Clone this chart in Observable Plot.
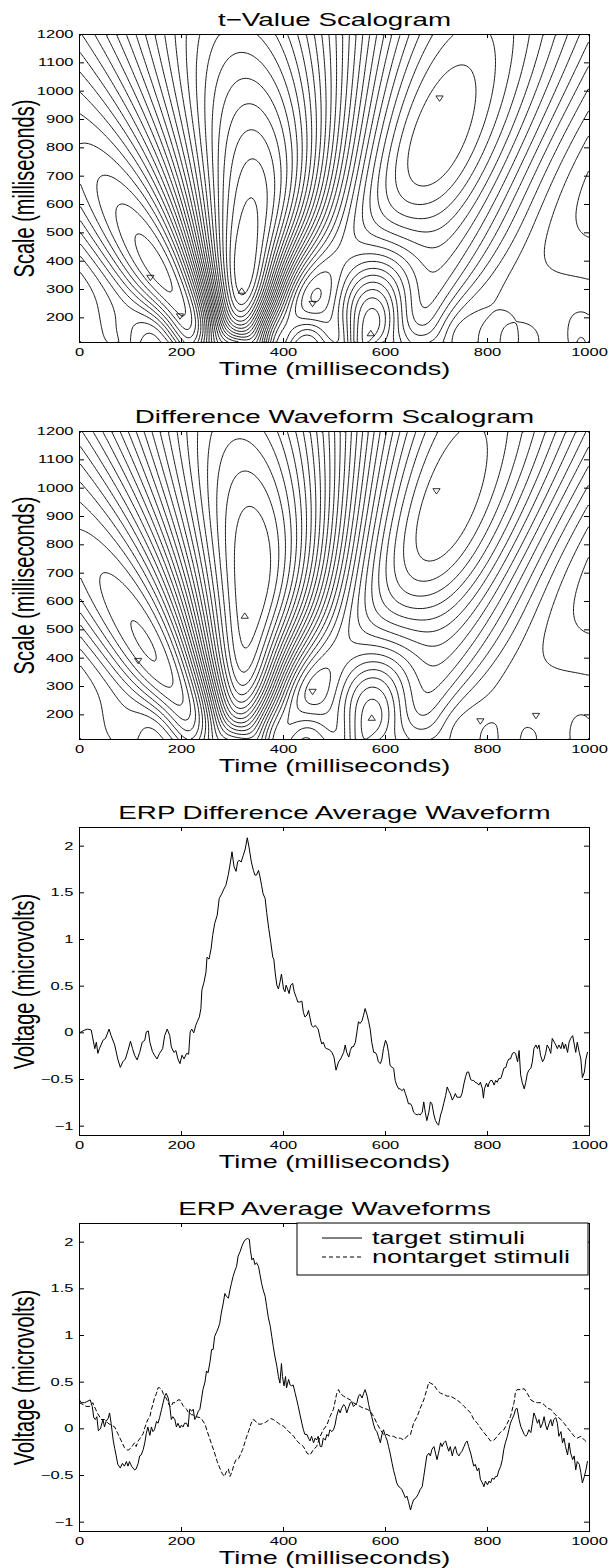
<!DOCTYPE html>
<html><head><meta charset="utf-8">
<script src="https://cdn.jsdelivr.net/npm/d3@7"></script>
<script src="https://cdn.jsdelivr.net/npm/@observablehq/plot@0.6"></script>
<style>
body{margin:0;background:#fff;}
#fig{width:610px;}
#fig svg{display:block;}
</style></head><body><div id="fig"></div>
<script>
// ---------------- data ----------------
const timeTicks = [0, 200, 400, 600, 800, 1000];
const scaleTicks = [200, 300, 400, 500, 600, 700, 800, 900, 1000, 1100, 1200];
const voltTicks = [-1, -0.5, 0, 0.5, 1, 1.5, 2];
const scaleDomain = [113, 1200];
const voltDomain = [-1.1, 2.2];

const titles = ["t\u2212Value Scalogram", "Difference Waveform Scalogram", "ERP Difference Average Waveform", "ERP Average Waveforms"];
const xLabel = "Time (milliseconds)";
const scaleLabel = "Scale (milliseconds)";
const voltLabel = "Voltage (microvolts)";
const legendLabels = ["target stimuli", "nontarget stimuli"];

// [time ms, microvolts]
const diffWave = [[0,0.00],[10,0.03],[16,0.04],[23,0.03],[30,-0.17],[33,-0.10],[36,-0.22],[39,-0.17],[43,-0.12],[46,-0.08],[51,-0.06],[58,0.04],[62,-0.03],[69,-0.13],[75,-0.28],[80,-0.37],[85,-0.31],[90,-0.28],[95,-0.19],[100,-0.09],[104,-0.17],[108,-0.24],[113,-0.29],[118,-0.21],[123,-0.10],[128,-0.08],[131,0.01],[135,0.02],[138,-0.10],[143,-0.20],[147,-0.24],[152,-0.28],[157,-0.22],[163,-0.17],[167,-0.03],[172,0.04],[177,-0.03],[180,-0.15],[185,-0.21],[189,-0.19],[193,-0.28],[197,-0.33],[201,-0.24],[205,-0.28],[210,-0.22],[214,-0.23],[217,0.01],[220,0.04],[224,0.00],[228,0.08],[231,0.12],[235,0.17],[238,0.26],[240,0.46],[244,0.54],[248,0.65],[250,0.81],[254,0.79],[258,0.90],[261,1.04],[265,1.17],[270,1.26],[274,1.44],[279,1.49],[283,1.54],[287,1.58],[292,1.70],[296,1.83],[299,1.94],[303,1.78],[307,1.73],[310,1.83],[313,1.85],[317,1.83],[321,1.90],[325,1.97],[329,2.09],[333,1.97],[337,1.83],[341,1.74],[344,1.69],[347,1.69],[351,1.74],[354,1.67],[357,1.58],[360,1.49],[364,1.44],[367,1.29],[371,1.12],[375,0.97],[379,0.81],[381,0.79],[384,0.63],[387,0.51],[390,0.47],[393,0.54],[396,0.63],[400,0.47],[403,0.44],[405,0.51],[408,0.47],[411,0.42],[414,0.51],[418,0.53],[421,0.44],[425,0.38],[428,0.33],[432,0.33],[436,0.34],[439,0.22],[442,0.17],[446,0.19],[449,0.24],[452,0.16],[455,0.08],[459,0.06],[462,0.08],[465,0.06],[468,0.04],[472,-0.06],[475,-0.12],[478,-0.10],[482,-0.16],[485,-0.17],[490,-0.18],[495,-0.21],[499,-0.26],[503,-0.40],[508,-0.31],[512,-0.28],[518,-0.21],[521,-0.13],[524,-0.21],[528,-0.26],[531,-0.19],[534,-0.15],[537,-0.15],[541,-0.10],[544,0.01],[547,0.12],[550,0.10],[554,0.13],[557,0.19],[560,0.26],[564,0.19],[567,0.12],[570,0.04],[573,-0.10],[577,-0.21],[580,-0.21],[583,-0.24],[586,-0.31],[590,-0.33],[593,-0.28],[596,-0.17],[600,-0.08],[603,-0.12],[606,-0.21],[609,-0.35],[613,-0.37],[616,-0.38],[619,-0.51],[622,-0.56],[626,-0.60],[629,-0.60],[632,-0.62],[636,-0.60],[639,-0.65],[642,-0.70],[645,-0.76],[649,-0.76],[652,-0.79],[655,-0.85],[659,-0.87],[662,-0.88],[665,-0.87],[668,-0.88],[672,-0.85],[675,-0.74],[678,-0.85],[681,-0.94],[685,-0.85],[688,-0.74],[691,-0.76],[695,-0.88],[698,-0.94],[701,-0.97],[704,-0.99],[708,-0.88],[711,-0.83],[714,-0.76],[718,-0.67],[721,-0.58],[724,-0.62],[727,-0.65],[731,-0.72],[734,-0.69],[737,-0.65],[740,-0.69],[744,-0.69],[747,-0.69],[750,-0.65],[754,-0.54],[757,-0.47],[760,-0.42],[763,-0.42],[767,-0.50],[770,-0.51],[773,-0.51],[776,-0.53],[780,-0.54],[783,-0.56],[786,-0.53],[790,-0.60],[792,-0.70],[794,-0.60],[798,-0.54],[801,-0.58],[803,-0.54],[806,-0.51],[809,-0.51],[813,-0.56],[816,-0.51],[819,-0.53],[822,-0.49],[826,-0.49],[829,-0.44],[832,-0.38],[836,-0.37],[839,-0.31],[842,-0.28],[845,-0.28],[849,-0.22],[852,-0.21],[855,-0.22],[859,-0.31],[862,-0.19],[865,-0.45],[868,-0.53],[872,-0.60],[875,-0.53],[878,-0.44],[881,-0.40],[885,-0.38],[888,-0.31],[891,-0.17],[895,-0.13],[898,-0.17],[901,-0.13],[904,-0.24],[908,-0.31],[911,-0.28],[914,-0.22],[917,-0.13],[921,-0.17],[924,-0.22],[927,-0.06],[931,-0.10],[934,-0.13],[937,-0.17],[940,-0.13],[944,-0.17],[947,-0.10],[950,-0.17],[953,-0.12],[957,-0.21],[960,-0.10],[963,-0.06],[967,-0.03],[970,-0.12],[973,-0.21],[976,-0.10],[980,-0.21],[983,-0.28],[986,-0.48],[990,-0.42],[993,-0.28],[996,-0.21]];

const targetWave = [[0,0.31],[3,0.28],[10,0.28],[14,0.29],[21,0.31],[25,0.24],[28,0.12],[31,0.10],[34,0.13],[37,-0.02],[41,0.00],[43,0.04],[46,0.10],[49,0.02],[52,0.08],[56,0.11],[59,0.17],[62,0.06],[66,-0.12],[69,-0.21],[72,-0.29],[75,-0.38],[80,-0.42],[84,-0.37],[88,-0.40],[92,-0.35],[95,-0.40],[98,-0.35],[102,-0.40],[105,-0.42],[108,-0.44],[111,-0.43],[115,-0.37],[118,-0.29],[121,-0.28],[125,-0.22],[128,-0.15],[131,-0.05],[134,0.02],[138,-0.07],[141,0.02],[144,-0.03],[147,-0.01],[151,0.08],[154,0.06],[157,0.12],[161,0.21],[164,0.28],[167,0.35],[170,0.38],[174,0.33],[177,0.24],[180,0.10],[183,0.13],[187,0.10],[190,0.02],[193,0.06],[197,0.01],[200,0.04],[203,0.02],[206,0.06],[210,0.06],[213,0.02],[216,0.21],[220,0.19],[223,0.21],[226,0.10],[229,0.13],[233,0.19],[236,0.21],[239,0.31],[242,0.42],[246,0.50],[249,0.62],[252,0.60],[256,0.72],[259,0.85],[262,0.85],[265,0.99],[269,1.04],[272,1.08],[275,1.13],[278,1.24],[282,1.35],[285,1.45],[288,1.42],[292,1.40],[295,1.49],[298,1.56],[301,1.63],[305,1.70],[308,1.74],[311,1.85],[315,1.90],[318,1.95],[321,1.99],[324,2.02],[329,2.04],[333,2.03],[335,1.92],[338,1.81],[341,1.83],[344,1.76],[347,1.78],[351,1.74],[354,1.65],[357,1.56],[360,1.49],[364,1.42],[367,1.31],[370,1.20],[374,1.10],[377,0.99],[380,0.88],[383,0.78],[387,0.67],[390,0.56],[393,0.49],[396,0.70],[398,0.56],[401,0.46],[404,0.56],[406,0.44],[410,0.53],[413,0.47],[416,0.46],[419,0.47],[423,0.38],[426,0.31],[429,0.24],[432,0.16],[436,0.06],[439,-0.01],[442,-0.06],[446,-0.06],[449,-0.10],[452,-0.13],[455,-0.08],[459,-0.15],[462,-0.10],[465,-0.12],[468,-0.08],[472,-0.19],[475,-0.19],[478,-0.10],[482,-0.12],[485,-0.06],[488,-0.08],[491,-0.01],[495,-0.03],[498,-0.01],[501,0.04],[504,0.13],[508,0.21],[511,0.17],[514,0.22],[518,0.26],[521,0.24],[524,0.17],[527,0.22],[531,0.28],[534,0.29],[537,0.24],[541,0.26],[544,0.28],[547,0.35],[550,0.37],[554,0.33],[557,0.38],[560,0.42],[564,0.35],[567,0.26],[570,0.19],[573,0.13],[577,0.04],[580,-0.01],[583,-0.03],[586,-0.08],[590,-0.15],[593,-0.06],[596,-0.01],[600,-0.08],[603,-0.12],[606,-0.19],[609,-0.26],[613,-0.37],[616,-0.45],[619,-0.51],[622,-0.58],[626,-0.62],[629,-0.63],[632,-0.65],[636,-0.70],[639,-0.74],[642,-0.72],[645,-0.78],[649,-0.87],[652,-0.81],[655,-0.76],[658,-0.75],[662,-0.72],[665,-0.69],[668,-0.65],[672,-0.62],[675,-0.51],[678,-0.40],[681,-0.29],[685,-0.26],[688,-0.29],[691,-0.22],[695,-0.19],[698,-0.26],[701,-0.33],[704,-0.26],[708,-0.15],[711,-0.19],[714,-0.15],[718,-0.13],[721,-0.19],[724,-0.24],[727,-0.19],[731,-0.29],[734,-0.22],[737,-0.19],[740,-0.26],[744,-0.29],[747,-0.26],[750,-0.24],[754,-0.19],[757,-0.15],[760,-0.13],[763,-0.19],[767,-0.26],[770,-0.33],[773,-0.40],[776,-0.38],[780,-0.45],[783,-0.42],[786,-0.54],[790,-0.58],[793,-0.62],[796,-0.56],[800,-0.60],[803,-0.56],[806,-0.58],[809,-0.53],[813,-0.54],[816,-0.51],[819,-0.51],[822,-0.45],[826,-0.40],[829,-0.33],[832,-0.22],[835,-0.15],[839,-0.08],[842,-0.01],[845,0.06],[848,0.10],[852,0.15],[855,0.21],[858,0.22],[862,0.10],[865,0.03],[868,-0.01],[872,-0.06],[875,-0.08],[878,-0.06],[881,-0.01],[885,-0.04],[888,0.06],[891,0.17],[894,0.13],[898,0.06],[901,0.10],[904,0.01],[908,0.06],[911,0.13],[914,0.04],[917,-0.01],[921,0.06],[924,0.10],[927,0.03],[930,0.10],[934,0.12],[937,0.06],[940,-0.08],[944,-0.03],[947,-0.15],[950,-0.10],[953,-0.19],[957,-0.28],[960,-0.15],[963,-0.26],[967,-0.33],[970,-0.29],[973,-0.44],[976,-0.35],[980,-0.38],[983,-0.47],[986,-0.58],[990,-0.51],[993,-0.44],[996,-0.35]];

const nontargetWave = [[0,0.28],[7,0.26],[13,0.24],[20,0.24],[26,0.28],[29,0.24],[36,0.16],[43,0.10],[49,0.10],[56,0.06],[62,0.04],[69,0.02],[75,-0.05],[82,-0.13],[88,-0.20],[95,-0.23],[100,-0.21],[104,-0.18],[108,-0.15],[111,-0.19],[115,-0.13],[119,-0.10],[125,-0.05],[128,0.01],[131,0.06],[134,0.10],[138,0.13],[141,0.21],[144,0.26],[147,0.33],[151,0.38],[154,0.44],[157,0.44],[161,0.42],[164,0.38],[167,0.35],[170,0.33],[174,0.28],[177,0.24],[180,0.24],[183,0.28],[187,0.28],[190,0.29],[193,0.31],[197,0.31],[200,0.28],[203,0.25],[206,0.23],[210,0.21],[213,0.18],[216,0.17],[220,0.15],[223,0.15],[226,0.13],[229,0.13],[236,0.12],[240,0.10],[246,0.05],[250,-0.02],[255,-0.10],[260,-0.18],[265,-0.26],[270,-0.35],[275,-0.42],[280,-0.48],[284,-0.51],[288,-0.46],[292,-0.43],[295,-0.51],[299,-0.46],[303,-0.38],[307,-0.33],[312,-0.32],[316,-0.27],[320,-0.22],[324,-0.15],[328,-0.08],[332,-0.02],[336,0.05],[340,0.10],[344,0.09],[348,0.06],[352,0.05],[356,0.05],[360,0.06],[365,0.07],[370,0.09],[375,0.11],[380,0.10],[385,0.08],[390,0.06],[395,0.04],[400,0.03],[405,0.00],[410,-0.03],[415,-0.05],[420,-0.08],[425,-0.12],[430,-0.15],[435,-0.17],[439,-0.19],[446,-0.26],[452,-0.28],[459,-0.22],[465,-0.19],[472,-0.08],[478,-0.01],[485,0.04],[491,0.13],[498,0.21],[504,0.37],[508,0.42],[511,0.38],[518,0.35],[524,0.33],[531,0.31],[537,0.28],[544,0.26],[550,0.24],[557,0.22],[564,0.21],[570,0.19],[577,0.13],[583,0.06],[590,-0.01],[596,-0.06],[603,-0.06],[609,-0.08],[616,-0.08],[622,-0.10],[629,-0.10],[636,-0.12],[642,-0.08],[649,-0.06],[655,0.06],[662,0.13],[668,0.22],[675,0.31],[681,0.42],[685,0.50],[688,0.49],[695,0.47],[701,0.42],[708,0.38],[714,0.37],[721,0.35],[727,0.35],[734,0.33],[740,0.31],[747,0.28],[754,0.24],[760,0.21],[767,0.17],[773,0.10],[780,0.06],[786,0.01],[793,-0.04],[799,-0.08],[806,-0.13],[813,-0.12],[819,-0.08],[825,-0.04],[832,-0.01],[839,0.06],[845,0.13],[852,0.28],[855,0.40],[858,0.42],[865,0.42],[872,0.43],[878,0.38],[885,0.31],[891,0.29],[898,0.28],[904,0.28],[911,0.26],[917,0.22],[924,0.21],[930,0.17],[937,0.13],[944,0.10],[950,0.06],[957,0.01],[963,-0.03],[970,-0.08],[976,-0.10],[983,-0.08],[990,-0.12],[996,-0.15]];

// extrema markers (time ms, scale ms)
const tvMaxTime = [318, 571], tvMaxScale = [296, 146];
const tvMinTime = [139, 197, 457, 706], tvMinScale = [341, 205, 249, 974];
const dfMaxTime = [324, 573], dfMaxScale = [550, 190];
const dfMinTime = [115, 457, 700, 786, 895], dfMinScale = [390, 281, 989, 177, 196];

// ---------------- scalogram (Mexican-hat wavelet transform of the difference waveform) ----------------
const NX = 200, NY = 220;
const SCALE_PER_WIDTH = 4.4;   // plotted scale = 4.4 x wavelet width parameter
const P_DIFF = 0.5, P_T = 0.8; // scale normalisation exponents
const N_LEVELS = 30;

function scalogram(wave, p) {
  const ts = wave.map(d => d[0]), vs = wave.map(d => d[1]), n = ts.length;
  const w = ts.map((t, i) => ((i < n - 1 ? ts[i + 1] : t) - (i > 0 ? ts[i - 1] : t)) / 2);
  const [s0, s1] = scaleDomain;
  const grid = new Array(NX * NY);
  for (let j = 0; j < NY; j++) {
    const a = (s0 + (j + 0.5) * (s1 - s0) / NY) / SCALE_PER_WIDTH;
    const norm = Math.pow(a, -p);
    for (let i = 0; i < NX; i++) {
      const b = (i + 0.5) * 1000 / NX;
      let s = 0;
      for (let k = 0; k < n; k++) {
        const u = (ts[k] - b) / a;
        if (u > 6 || u < -6) continue;
        const u2 = u * u;
        s += vs[k] * w[k] * (1 - u2) * Math.exp(-u2 / 2);
      }
      grid[j * NX + i] = s * norm;
    }
  }
  return grid;
}

// ---------------- layout ----------------
const W = 610, ML = 79, MR = 21, MT = 34, PH = 308, PW = W - ML - MR;
const STRETCH = 1.5;
const FONT = "'Liberation Sans', Arial, Helvetica, sans-serif";

const triUp = {draw(c) { c.moveTo(0, -2.8); c.lineTo(3.6, 2.6); c.lineTo(-3.6, 2.6); c.closePath(); }};
const triDown = {draw(c) { c.moveTo(0, 2.8); c.lineTo(3.6, -2.6); c.lineTo(-3.6, -2.6); c.closePath(); }};

function contourMark(grid) {
  const [lo, hi] = d3.extent(grid);
  const th = d3.range(1, N_LEVELS).map(i => lo + (hi - lo) * i / N_LEVELS);
  return Plot.contour(grid, {
    width: NX, height: NY, x1: 0, x2: 1000, y1: scaleDomain[0], y2: scaleDomain[1],
    value: d => d, thresholds: th, fill: "none", stroke: "black", strokeWidth: 0.9
  });
}

function markers(tArr, sArr, sym) {
  return Plot.dot(tArr, {x: d => d, y: (d, i) => sArr[i], symbol: sym, r: 3, fill: "none", stroke: "black", strokeWidth: 0.8});
}

const voltFmt = d => (d < 0 ? "\u2212" + (-d) : String(d));

function panel({title, yLabel, yDomain, yTicks, yFormat, marks, height}) {
  const mb = height - MT - PH;
  return Plot.plot({
    width: W, height, marginLeft: ML, marginRight: MR, marginTop: MT, marginBottom: mb,
    style: {fontFamily: FONT, background: "white", color: "black", overflow: "visible"},
    x: {domain: [0, 1000]},
    y: {domain: yDomain},
    marks: [
      ...marks,
      Plot.frame({stroke: "black", strokeWidth: 1}),
      Plot.ruleX(timeTicks, {x: d => d, insetTop: PH - 4, stroke: "black"}),
      Plot.ruleX(timeTicks, {x: d => d, insetBottom: PH - 4, stroke: "black"}),
      Plot.ruleY(yTicks, {y: d => d, insetRight: PW - 5, stroke: "black"}),
      Plot.ruleY(yTicks, {y: d => d, insetLeft: PW - 5, stroke: "black"}),
      Plot.axisX({ticks: timeTicks, tickSize: 0, tickPadding: 6, fontSize: 11, label: null, tickFormat: d => String(d)}),
      Plot.axisY({ticks: yTicks, tickSize: 0, tickPadding: 6, fontSize: 11, label: null, tickFormat: yFormat}),
      Plot.text([title], {text: d => d, frameAnchor: "top", dy: -9, lineAnchor: "bottom", textAnchor: "middle", fontSize: 18.5}),
      Plot.text([xLabel], {text: d => d, frameAnchor: "bottom", dy: 27, lineAnchor: "middle", textAnchor: "middle", fontSize: 18}),
      Plot.text([yLabel], {text: d => d, frameAnchor: "left", dx: -55, rotate: -90, lineAnchor: "middle", textAnchor: "middle", fontSize: 20})
    ]
  });
}

function addLegend(svg) {
  const g = d3.select(svg).append("g").attr("font-family", FONT).attr("font-size", 18)
    .attr("fill", "black").attr("text-anchor", "start");
  const x0 = 297, x1 = W - MR - 1, y0 = MT, rowY = [MT + 15, MT + 34];
  g.append("rect").attr("x", x0).attr("y", y0).attr("width", x1 - x0).attr("height", 52)
    .attr("fill", "white").attr("stroke", "black");
  [null, "4,3"].forEach((dash, k) => {
    const l = g.append("line").attr("x1", x0 + 25).attr("x2", x0 + 65).attr("y1", rowY[k]).attr("y2", rowY[k])
      .attr("stroke", "black").attr("stroke-width", 1);
    if (dash) l.attr("stroke-dasharray", dash);
    g.append("text").attr("x", x0 + 75).attr("y", rowY[k]).attr("dy", "0.34em").attr("text-anchor", "start").text(legendLabels[k]);
  });
}

function stretchText(svg) {
  svg.querySelectorAll("text").forEach(t => {
    const x = parseFloat(t.getAttribute("x")) || 0, y = parseFloat(t.getAttribute("y")) || 0;
    const tr = t.getAttribute("transform") || "";
    const rot = /rotate\((-90|270)/.test(tr);
    const sc = rot ? `scale(1,${STRETCH})` : `scale(${STRETCH},1)`;
    t.setAttribute("transform", `${tr} translate(${x},${y}) ${sc} translate(${-x},${-y})`);
  });
}

const tGrid = scalogram(diffWave, P_T);
const dGrid = scalogram(diffWave, P_DIFF);

const fig = document.getElementById("fig");
const panels = [
  panel({title: titles[0], yLabel: scaleLabel, yDomain: scaleDomain, yTicks: scaleTicks, yFormat: d => String(d), height: 397,
    marks: [contourMark(tGrid), markers(tvMaxTime, tvMaxScale, triUp), markers(tvMinTime, tvMinScale, triDown)]}),
  panel({title: titles[1], yLabel: scaleLabel, yDomain: scaleDomain, yTicks: scaleTicks, yFormat: d => String(d), height: 396,
    marks: [contourMark(dGrid), markers(dfMaxTime, dfMaxScale, triUp), markers(dfMinTime, dfMinScale, triDown)]}),
  panel({title: titles[2], yLabel: voltLabel, yDomain: voltDomain, yTicks: voltTicks, yFormat: voltFmt, height: 396,
    marks: [Plot.line(diffWave, {x: d => d[0], y: d => d[1], stroke: "black", strokeWidth: 1})]}),
  panel({title: titles[3], yLabel: voltLabel, yDomain: voltDomain, yTicks: voltTicks, yFormat: voltFmt, height: 379,
    marks: [
      Plot.line(nontargetWave, {x: d => d[0], y: d => d[1], stroke: "black", strokeWidth: 1, strokeDasharray: "4,3"}),
      Plot.line(targetWave, {x: d => d[0], y: d => d[1], stroke: "black", strokeWidth: 1})
    ]})
];
addLegend(panels[3]);
panels.forEach(svg => { stretchText(svg); fig.appendChild(svg); });
</script>
</body></html>
